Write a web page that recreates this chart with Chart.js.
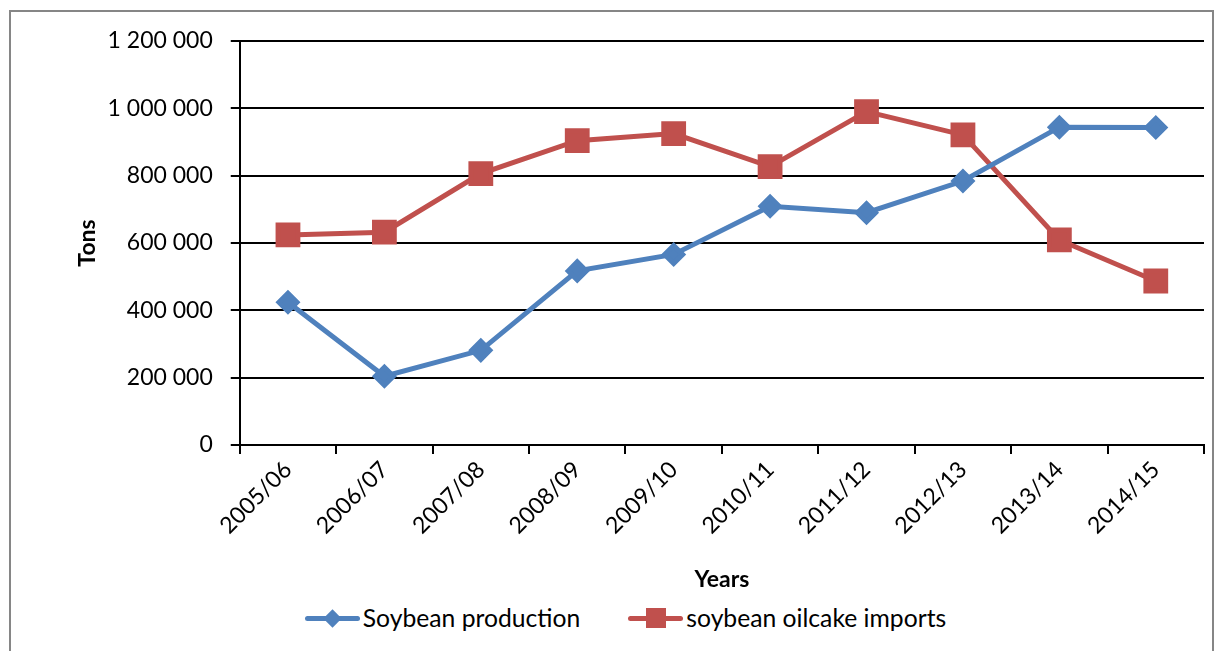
<!DOCTYPE html>
<html lang="en">
<head>
    <meta charset="UTF-8">
    <title>Soybean production and oilcake imports</title>
    <script src="https://cdn.jsdelivr.net/npm/chart.js"></script>
    <style>
        html, body { margin: 0; padding: 0; background: #fff; }
        .frame {
            position: absolute;
            left: 9px; top: 10px;
            width: 1205px; height: 645px;
            border: 2px solid #868686;
            box-sizing: border-box;
        }
        .chart-box {
            position: absolute;
            left: 0; top: 0;
            width: 1223px; height: 593px;
        }
        .legend {
            position: absolute;
            top: 603px; left: 14px; width: 1223px;
            display: flex; justify-content: center; gap: 48px;
            font-family: Lato, "Liberation Sans", sans-serif;
            font-size: 24.7px; color: #000;
        }
        .legend-item { display: flex; align-items: center; }
        .swatch { position: relative; width: 55px; height: 24px; margin-right: 3px; }
        .swatch .line { position: absolute; left: 0; right: 0; top: 10px; height: 5px; border-radius: 3px; }
        .swatch .mark { position: absolute; }
    </style>
</head>
<body>
    <div class="frame"></div>
    <div class="chart-box">
        <canvas id="soyChart" width="1223" height="593"></canvas>
    </div>
    <div class="legend">
        <div class="legend-item">
            <div class="swatch">
                <div class="line" style="background:#4F81BD"></div>
                <div class="mark" style="background:#4F81BD;width:13px;height:13px;left:21px;top:6px;transform:rotate(45deg)"></div>
            </div>
            <span>Soybean production</span>
        </div>
        <div class="legend-item">
            <div class="swatch">
                <div class="line" style="background:#C0504D"></div>
                <div class="mark" style="background:#C0504D;width:20px;height:20px;left:18px;top:2px"></div>
            </div>
            <span>soybean oilcake imports</span>
        </div>
    </div>

    <script>
        // data
        const years = ['2005/06', '2006/07', '2007/08', '2008/09', '2009/10',
                       '2010/11', '2011/12', '2012/13', '2013/14', '2014/15'];
        const production = [424000, 204000, 281000, 517000, 566000, 709000, 690000, 784000, 944000, 943000];
        const imports = [624000, 632000, 806000, 904000, 925000, 827000, 990000, 921000, 609000, 487000];

        const fontFamily = 'Lato, "Liberation Sans", sans-serif';

        function spaced(v) {
            return String(v).replace(/\B(?=(\d{3})+(?!\d))/g, ' ');
        }

        const ctx = document.getElementById('soyChart').getContext('2d');
        const soyChart = new Chart(ctx, {
            type: 'line',
            data: {
                labels: years,
                datasets: [{
                    label: 'Soybean production',
                    data: production,
                    borderColor: '#4F81BD',
                    backgroundColor: '#4F81BD',
                    borderWidth: 5,
                    pointStyle: 'rectRot',
                    pointRadius: 9,
                    pointHoverRadius: 9,
                    tension: 0
                }, {
                    label: 'soybean oilcake imports',
                    data: imports,
                    borderColor: '#C0504D',
                    backgroundColor: '#C0504D',
                    borderWidth: 5,
                    pointStyle: 'rect',
                    pointRadius: 14,
                    pointHoverRadius: 14,
                    tension: 0
                }]
            },
            options: {
                responsive: false,
                animation: false,
                layout: { padding: { left: 54, right: 14, top: 41, bottom: 0 } },
                plugins: {
                    legend: { display: false },
                    tooltip: { enabled: false }
                },
                scales: {
                    x: {
                        offset: true,
                        grid: {
                            offset: true,
                            drawOnChartArea: false,
                            color: '#000',
                            lineWidth: 2,
                            tickLength: 9
                        },
                        border: { color: '#000', width: 2 },
                        ticks: {
                            color: '#000',
                            font: { family: fontFamily, size: 23 },
                            maxRotation: 45,
                            minRotation: 45,
                            padding: 2
                        },
                        title: {
                            display: true,
                            text: 'Years',
                            color: '#000',
                            font: { family: fontFamily, size: 23, weight: 'bold' },
                            padding: { top: 24, bottom: 0 }
                        }
                    },
                    y: {
                        min: 0,
                        max: 1200000,
                        ticks: {
                            stepSize: 200000,
                            color: '#000',
                            font: { family: fontFamily, size: 23 },
                            padding: 18,
                            callback: (v) => spaced(v)
                        },
                        grid: {
                            color: '#000',
                            lineWidth: 2,
                            tickLength: 9
                        },
                        border: { color: '#000', width: 2 },
                        title: {
                            display: true,
                            text: 'Tons',
                            color: '#000',
                            font: { family: fontFamily, size: 23, weight: 'bold' },
                            padding: { top: 20, bottom: -12 }
                        }
                    }
                }
            }
        });
    </script>
</body>
</html>
